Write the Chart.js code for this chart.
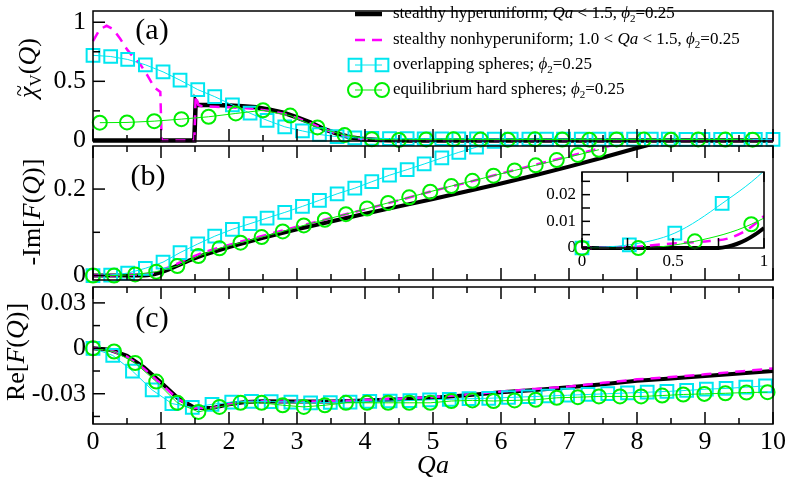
<!DOCTYPE html>
<html>
<head>
<meta charset="utf-8">
<title>chi_V(Q) and F(Q)</title>
<script src="https://cdn.jsdelivr.net/npm/chart.js@4.4.1/dist/chart.umd.min.js"></script>
<style>
  html, body { margin: 0; padding: 0; background: #fff; }
  #fig { position: relative; width: 789px; height: 482px; overflow: hidden; }
  #fig canvas { position: absolute; }
</style>
</head>
<body>
<div id="fig">
  <canvas id="chartA" width="789" height="152" style="left:0;top:0"></canvas>
  <canvas id="chartB" width="789" height="156" style="left:0;top:135px"></canvas>
  <canvas id="chartC" width="789" height="206" style="left:0;top:276px"></canvas>
  <canvas id="chartIn" width="252" height="118" style="left:530px;top:158px"></canvas>
</div>
<script>
// ---- series names (legend) ----
const seriesNames = [
  'stealthy hyperuniform; *Qa* < 1.5, *ϕ*_2=0.25',
  'stealthy nonhyperuniform; 1.0 < *Qa* < 1.5, *ϕ*_2=0.25',
  'overlapping spheres; *ϕ*_2=0.25',
  'equilibrium hard spheres; *ϕ*_2=0.25'
];

// ---- shared x axis (Qa) ----
const qaTicks = [0, 1, 2, 3, 4, 5, 6, 7, 8, 9, 10];
const qaLabels = ['0', '1', '2', '3', '4', '5', '6', '7', '8', '9', '10'];
const qaMinor = [0.5, 1.5, 2.5, 3.5, 4.5, 5.5, 6.5, 7.5, 8.5, 9.5];

// ---- panel (a): chi_V(Q) ----
const aTicks = [0, 0.5, 1];
const aLabels = ['0', '0.5', '1'];
const aMinor = [0.25, 0.75];
const aHypX = [0, 1.49, 1.51, 1.54, 1.6, 1.8, 2.0, 2.2, 2.4, 2.6, 2.8, 3.0, 3.2, 3.4, 3.6, 3.8, 4.0, 4.2, 4.5, 10];
const aHypY = [0, 0, 0.33, 0.30, 0.30, 0.30, 0.295, 0.29, 0.28, 0.26, 0.235, 0.195, 0.15, 0.095, 0.055, 0.025, 0.01, 0.003, 0, 0];
const aNonX = [0, 0.1, 0.2, 0.3, 0.4, 0.5, 0.6, 0.7, 0.8, 0.9, 0.99, 1.01, 1.49, 1.51, 1.55, 1.6, 1.8, 2.0, 2.2, 2.4, 2.6, 2.8, 3.0, 3.2, 3.4, 3.6, 3.8, 4.0, 4.2, 4.5, 10];
const aNonY = [0.84, 0.94, 0.97, 0.94, 0.86, 0.77, 0.70, 0.64, 0.55, 0.45, 0.41, 0, 0, 0.38, 0.30, 0.29, 0.285, 0.28, 0.275, 0.265, 0.25, 0.225, 0.19, 0.145, 0.095, 0.055, 0.025, 0.01, 0.003, 0, 0];
const aOvlX = [0, 0.26, 0.51, 0.77, 1.03, 1.28, 1.54, 1.79, 2.05, 2.31, 2.56, 2.82, 3.08, 3.33, 3.59, 3.85, 4.1, 4.36, 4.62, 4.87,
               5.13, 5.38, 5.64, 5.9, 6.15, 6.41, 6.67, 6.92, 7.18, 7.44, 7.69, 7.95, 8.21, 8.46, 8.72, 8.97, 9.23, 9.49, 9.74, 10];
const aOvlY = [0.72, 0.71, 0.685, 0.64, 0.58, 0.51, 0.43, 0.37, 0.30, 0.23, 0.17, 0.115, 0.08, 0.05, 0.032, 0.022, 0.018, 0.016, 0.015, 0.014,
               0.014, 0.013, 0.013, 0.012, 0.012, 0.012, 0.011, 0.011, 0.011, 0.01, 0.01, 0.01, 0.01, 0.01, 0.009, 0.009, 0.009, 0.009, 0.009, 0.009];
const aEqX = [0.1, 0.5, 0.9, 1.3, 1.7, 2.1, 2.5, 2.9, 3.3, 3.7, 4.1, 4.5, 4.9, 5.3, 5.7, 6.1, 6.5, 6.9, 7.3, 7.7, 8.1, 8.5, 8.9, 9.3, 9.7];
const aEqY = [0.15, 0.152, 0.163, 0.18, 0.20, 0.228, 0.255, 0.21, 0.11, 0.045, 0.01, 0.004, 0.008, 0.01, 0.007, 0.006, 0.009, 0.007, 0.006, 0.008, 0.007, 0.006, 0.008, 0.007, 0.006];

// ---- panel (b): -Im[F(Q)] ----
const bTicks = [0, 0.2];
const bLabels = ['0', '0.2'];
const bMinor = [0.1];
const bHypX = [0, 0.25, 0.5, 0.75, 0.8, 0.85, 0.9, 0.95, 1.0, 1.1, 1.2, 1.4, 1.6, 1.8, 2.0, 2.5, 3.0, 3.5, 4.0, 4.5, 5.0, 5.5, 6.0, 6.5, 7.0, 7.5, 8.0, 8.5];
const bHypY = [0, 0, 0, 0, 0.0005, 0.0015, 0.003, 0.005, 0.0075, 0.013, 0.02, 0.034, 0.046, 0.056, 0.066, 0.087, 0.107, 0.125, 0.143, 0.16, 0.177, 0.195, 0.213, 0.232, 0.252, 0.273, 0.295, 0.316];
const bNonX = [0, 0.25, 0.5, 0.7, 0.8, 0.9, 0.95, 1.0, 1.1, 1.2, 1.4, 1.6, 1.8, 2.0, 2.5, 3.0, 3.5, 4.0, 4.5, 5.0, 5.5, 6.0, 6.5, 7.0, 7.5, 8.0, 8.5];
const bNonY = [0, 0.0003, 0.0017, 0.0026, 0.0035, 0.0065, 0.009, 0.012, 0.018, 0.025, 0.039, 0.052, 0.062, 0.071, 0.092, 0.113, 0.133, 0.153, 0.174, 0.196, 0.215, 0.236, 0.256, 0.276, 0.296, 0.316, 0.336];
const bOvlX = [0, 0.26, 0.51, 0.77, 1.03, 1.28, 1.54, 1.79, 2.05, 2.31, 2.56, 2.82, 3.08, 3.33, 3.59, 3.85, 4.1, 4.36, 4.62, 4.87, 5.13, 5.38, 5.64, 5.9];
const bOvlY = [0, 0.0012, 0.0056, 0.0167, 0.031, 0.053, 0.073, 0.091, 0.107, 0.12, 0.133, 0.146, 0.16, 0.174, 0.189, 0.202, 0.217, 0.232, 0.245, 0.258, 0.272, 0.285, 0.297, 0.31];
const bEqX = [0, 0.31, 0.62, 0.93, 1.24, 1.55, 1.86, 2.17, 2.48, 2.79, 3.1, 3.41, 3.72, 4.03, 4.34, 4.65, 4.96, 5.27, 5.58, 5.89, 6.2, 6.51, 6.82, 7.13, 7.44];
const bEqY = [0, 0, 0.0025, 0.0089, 0.022, 0.045, 0.063, 0.076, 0.089, 0.102, 0.116, 0.129, 0.142, 0.155, 0.168, 0.181, 0.194, 0.207, 0.219, 0.231, 0.243, 0.255, 0.267, 0.279, 0.291];

// ---- inset of (b) ----
const inXTicks = [0, 0.5, 1];
const inXLabels = ['0', '0.5', '1'];
const inXMinor = [0.25, 0.75];
const inYTicks = [0, 0.01, 0.02];
const inYLabels = ['0', '0.01', '0.02'];
const inYMinor = [0.005, 0.015, 0.025];

// ---- panel (c): Re[F(Q)] ----
const cTicks = [-0.03, 0, 0.03];
const cLabels = ['-0.03', '0', '0.03'];
const cMinor = [-0.045, -0.015, 0.015];
const cHypX = [0, 0.25, 0.5, 0.75, 1.0, 1.25, 1.5, 1.75, 2.0, 2.25, 2.5, 3.0, 3.5, 4.0, 4.5, 5.0, 5.5, 6.0, 6.5, 7.0, 7.5, 8.0, 8.5, 9.0, 9.5, 10];
const cHypY = [0, -0.001, -0.005, -0.0125, -0.0225, -0.033, -0.0395, -0.0395, -0.037, -0.0355, -0.035, -0.0352, -0.0352, -0.0345, -0.0337, -0.0327, -0.031, -0.029, -0.0275, -0.0258, -0.0237, -0.0215, -0.0199, -0.0183, -0.0167, -0.015];
const cNonY = [0, -0.0012, -0.0055, -0.0135, -0.0235, -0.0335, -0.0395, -0.0395, -0.037, -0.0355, -0.035, -0.0352, -0.035, -0.0342, -0.0333, -0.0322, -0.0305, -0.0285, -0.0268, -0.0252, -0.0228, -0.0205, -0.019, -0.0172, -0.0153, -0.0133];
const cOvlX = [0, 0.29, 0.58, 0.87, 1.16, 1.46, 1.75, 2.04, 2.33, 2.62, 2.91, 3.2, 3.49, 3.78, 4.07, 4.37, 4.66, 4.95, 5.24, 5.53, 5.82, 6.11,
               6.4, 6.69, 6.98, 7.28, 7.57, 7.86, 8.15, 8.44, 8.73, 9.02, 9.31, 9.6, 9.89];
const cOvlY = [0, -0.0047, -0.015, -0.0275, -0.0365, -0.039, -0.037, -0.0355, -0.035, -0.0352, -0.0355, -0.036, -0.0358, -0.0355, -0.035, -0.0348,
               -0.0345, -0.034, -0.0337, -0.0333, -0.033, -0.0325, -0.032, -0.0315, -0.031, -0.0305, -0.03, -0.0295, -0.029, -0.0285, -0.0278, -0.027, -0.0265, -0.0257, -0.0248];
const cEqX = [0, 0.31, 0.62, 0.93, 1.24, 1.55, 1.86, 2.17, 2.48, 2.79, 3.1, 3.41, 3.72, 4.03, 4.34, 4.65, 4.96, 5.27, 5.58, 5.89, 6.2, 6.51,
              6.82, 7.13, 7.44, 7.75, 8.06, 8.37, 8.68, 8.99, 9.3, 9.61, 9.92];
const cEqY = [0, -0.0021, -0.0097, -0.022, -0.036, -0.042, -0.0387, -0.036, -0.036, -0.0376, -0.0387, -0.0376, -0.036, -0.036, -0.036, -0.036,
              -0.036, -0.0348, -0.0344, -0.0348, -0.0344, -0.034, -0.0327, -0.0323, -0.0318, -0.0318, -0.0318, -0.0312, -0.0305, -0.0301, -0.0297, -0.0292, -0.029];

// ---------------------------------------------------------------
const FONT = '"Liberation Serif"';
const BLACK = '#000000', MAGENTA = '#ff00ff', CYAN = '#00e6f0', GREEN = '#00ee00';
Chart.defaults.font.family = 'Liberation Serif';
Chart.defaults.color = '#000';

function pts(xs, ys) {
  return xs.map((x, i) => ({ x: x, y: ys[i] }));
}

// *italic*, _s subscript, ~*x* italic with a tilde on top
function richParts(str) {
  return str.split(/(~?\*[^*]+\*|_\w)/).filter(s => s).map(s => {
    if (s[0] === '_') return { t: s.slice(1), sub: true };
    if (s[0] === '~') return { t: s.slice(2, -1), it: true, tilde: true };
    if (s[0] === '*') return { t: s.slice(1, -1), it: true };
    return { t: s };
  });
}

function drawRich(ctx, str, x, y, size, align) {
  const parts = richParts(str);
  const font = p => (p.it ? 'italic ' : '') + (p.sub ? Math.round(size * 0.65) : size) + 'px ' + FONT;
  let w = 0;
  parts.forEach(p => { ctx.font = font(p); p.w = ctx.measureText(p.t).width; w += p.w; });
  let cx = align === 'center' ? x - w / 2 : x;
  ctx.textAlign = 'left';
  ctx.textBaseline = 'middle';
  parts.forEach(p => {
    ctx.font = font(p);
    ctx.fillText(p.t, cx, p.sub ? y + size * 0.3 : y);
    if (p.tilde) {
      ctx.font = Math.round(size * 0.8) + 'px ' + FONT;
      ctx.fillText('~', cx + p.w * 0.12, y - size * 0.34);
    }
    cx += p.w;
  });
}

// frame, inward ticks, panel letter, rotated y title, legend
const panelDecor = {
  id: 'panelDecor',
  afterDraw(chart, args, o) {
    const ctx = chart.ctx, a = chart.chartArea, xs = chart.scales.x, ys = chart.scales.y;
    ctx.save();
    ctx.strokeStyle = '#000';
    ctx.lineWidth = o.lw;
    ctx.strokeRect(a.left, a.top, a.right - a.left, a.bottom - a.top);
    const tick = (px, py, dx, dy) => {
      ctx.beginPath(); ctx.moveTo(px, py); ctx.lineTo(px + dx, py + dy); ctx.stroke();
    };
    [[o.xMajor, o.tx[0]], [o.xMinor, o.tx[1]]].forEach(([vals, len]) => {
      vals.forEach(v => {
        const p = xs.getPixelForValue(v);
        tick(p, a.bottom, 0, -len);
        if (o.topTicks) tick(p, a.top, 0, len);
      });
    });
    [[o.yMajor, o.ty[0]], [o.yMinor, o.ty[1]]].forEach(([vals, len]) => {
      vals.forEach(v => tick(a.left, ys.getPixelForValue(v), len, 0));
    });
    ctx.fillStyle = '#000';
    if (o.letter) {
      ctx.font = '30px ' + FONT;
      ctx.textAlign = 'center';
      ctx.textBaseline = 'middle';
      ctx.fillText(o.letter[0], o.letter[1], o.letter[2]);
    }
    if (o.title) {
      ctx.save();
      ctx.translate(o.title[1], o.title[2]);
      ctx.rotate(-Math.PI / 2);
      drawRich(ctx, o.title[0], 0, 0, 26, 'center');
      ctx.restore();
    }
    if (o.legend) {
      const L = o.legend;
      chart.data.datasets.forEach((ds, i) => {
        const ry = L.rows[i];
        ctx.save();
        ctx.strokeStyle = ds.borderColor;
        ctx.lineWidth = ds.borderWidth;
        ctx.setLineDash(ds.borderDash || []);
        ctx.beginPath(); ctx.moveTo(L.x0, ry); ctx.lineTo(L.x1, ry); ctx.stroke();
        ctx.setLineDash([]);
        if (ds.pointRadius > 0) {
          ctx.lineWidth = ds.pointBorderWidth;
          ctx.fillStyle = 'rgba(0,0,0,0)';
          [L.x0, L.x1].forEach(px => Chart.helpers.drawPoint(ctx,
            { pointStyle: ds.pointStyle, radius: ds.pointRadius, rotation: 0, borderWidth: ds.pointBorderWidth }, px, ry));
        }
        ctx.restore();
        ctx.fillStyle = '#000';
        drawRich(ctx, seriesNames[i], L.tx, ry, L.size, 'left');
      });
    }
    ctx.restore();
  }
};

function hypSet(xs, ys, w, clip, smooth) {
  return { label: seriesNames[0], data: pts(xs, ys), borderColor: BLACK, borderWidth: w, pointRadius: 0,
           fill: false, clip: clip, order: 4, cubicInterpolationMode: smooth ? 'monotone' : 'default' };
}
function nonSet(xs, ys, w, clip, smooth) {
  return { label: seriesNames[1], data: pts(xs, ys), borderColor: MAGENTA, borderWidth: w, borderDash: [10, 7], pointRadius: 0,
           fill: false, clip: clip, order: 3, cubicInterpolationMode: smooth ? 'monotone' : 'default' };
}
function ovlSet(xs, ys, clip, smooth) {
  return { label: seriesNames[2], data: pts(xs, ys), borderColor: CYAN, borderWidth: 1, pointStyle: 'rect', pointRadius: 9,
           pointBorderWidth: 2, pointBorderColor: CYAN, pointBackgroundColor: 'rgba(0,0,0,0)', fill: false, clip: clip, order: 2,
           cubicInterpolationMode: smooth ? 'monotone' : 'default' };
}
function eqSet(xs, ys, clip, smooth) {
  return { label: seriesNames[3], data: pts(xs, ys), borderColor: GREEN, borderWidth: 1, pointStyle: 'circle', pointRadius: 7,
           pointBorderWidth: 2, pointBorderColor: GREEN, pointBackgroundColor: 'rgba(0,0,0,0)', fill: false, clip: clip, order: 1,
           cubicInterpolationMode: smooth ? 'monotone' : 'default' };
}

function yAxis(min, max, ticks, labels, width, size, pad) {
  return {
    type: 'linear', min: min, max: max,
    afterBuildTicks: s => { s.ticks = ticks.map(v => ({ value: v })); },
    afterFit: s => { s.width = width; s.paddingTop = 0; s.paddingBottom = 0; },
    ticks: { callback: (v, i) => labels[i], font: { size: size }, padding: pad, autoSkip: false, color: '#000' },
    grid: { display: false, drawTicks: false },
    border: { display: false }
  };
}
function hiddenX(min, max) {
  return { type: 'linear', min: min, max: max, display: false };
}
function shownX(min, max, ticks, labels, height, size, pad, title) {
  return {
    type: 'linear', min: min, max: max,
    afterBuildTicks: s => { s.ticks = ticks.map(v => ({ value: v })); },
    afterFit: s => { s.height = height; s.paddingLeft = 0; s.paddingRight = 0; },
    ticks: { callback: (v, i) => labels[i], font: { size: size }, padding: pad, autoSkip: false, maxRotation: 0, color: '#000' },
    grid: { display: false, drawTicks: false },
    border: { display: false },
    title: title ? { display: true, text: title, font: { size: size, style: 'italic' }, padding: 0, color: '#000' } : { display: false }
  };
}

function makeChart(id, datasets, padding, scales, decor) {
  return new Chart(document.getElementById(id), {
    type: 'line',
    data: { datasets: datasets },
    options: {
      responsive: false,
      animation: false,
      events: [],
      layout: { padding: padding },
      plugins: { legend: { display: false }, tooltip: { enabled: false }, panelDecor: decor },
      scales: scales
    },
    plugins: [panelDecor]
  });
}

const clipA = { left: 12, right: 12, top: 0, bottom: 9 };
const clipB = { left: 12, right: 12, top: 0, bottom: 9 };
const clipC = { left: 12, right: 12, top: 0, bottom: 9 };
const clipIn = { left: 12, right: 0, top: 0, bottom: 9 };

// panel (a)
makeChart('chartA',
  [hypSet(aHypX, aHypY, 4.5, clipA), nonSet(aNonX, aNonY, 2.5, clipA), ovlSet(aOvlX, aOvlY, clipA), eqSet(aEqX, aEqY, clipA)],
  { top: 2, bottom: 9, left: 0, right: 16 },
  { x: hiddenX(0, 10), y: yAxis(-0.005, 1.095, aTicks, aLabels, 93, 26, 7) },
  { lw: 1.5, xMajor: qaTicks, xMinor: qaMinor, tx: [12, 6], topTicks: false, yMajor: aTicks, yMinor: aMinor, ty: [12, 7],
    letter: ['(a)', 152, 31], title: ['~*χ*_V(*Q*)', 29, 68],
    legend: { x0: 355, x1: 382, tx: 393, rows: [14, 40, 65, 90], size: 17 } });

// panel (b)
makeChart('chartB',
  [hypSet(bHypX, bHypY, 4, clipB), nonSet(bNonX, bNonY, 2.5, clipB), ovlSet(bOvlX, bOvlY, clipB), eqSet(bEqX, bEqY, clipB)],
  { top: 8, bottom: 7, left: 0, right: 16 },
  { x: hiddenX(0, 10), y: yAxis(-0.0103, 0.2996, bTicks, bLabels, 93, 26, 7) },
  { lw: 1.5, xMajor: qaTicks, xMinor: qaMinor, tx: [12, 6], topTicks: true, yMajor: bTicks, yMinor: bMinor, ty: [12, 7],
    letter: ['(b)', 148, 42], title: ['-Im[*F*(*Q*)]', 33, 77] });

// panel (c)
makeChart('chartC',
  [hypSet(cHypX, cHypY, 4, clipC), nonSet(cHypX, cNonY, 2.5, clipC), ovlSet(cOvlX, cOvlY, clipC), eqSet(cEqX, cEqY, clipC)],
  { top: 8, bottom: 0, left: 0, right: 16 },
  { x: shownX(0, 10, qaTicks, qaLabels, 58, 26, 3, 'Qa'), y: yAxis(-0.05, 0.0405, cTicks, cLabels, 93, 26, 7) },
  { lw: 1.5, xMajor: qaTicks, xMinor: qaMinor, tx: [12, 6], topTicks: true, yMajor: cTicks, yMinor: cMinor, ty: [12, 7],
    letter: ['(c)', 152, 43], title: ['Re[*F*(*Q*)]', 17, 76] });

// inset of (b)
makeChart('chartIn',
  [hypSet(bHypX, bHypY, 4, clipIn, true), nonSet(bNonX, bNonY, 2.5, clipIn, true), ovlSet(bOvlX, bOvlY, clipIn, true), eqSet(bEqX, bEqY, clipIn, true)],
  { top: 14, bottom: 0, left: 0, right: 18 },
  { x: shownX(0, 1, inXTicks, inXLabels, 28, 17, 3, null), y: yAxis(0, 0.0285, inYTicks, inYLabels, 52, 17, 6) },
  { lw: 1.5, xMajor: inXTicks, xMinor: inXMinor, tx: [10, 10], topTicks: true, yMajor: inYTicks, yMinor: inYMinor, ty: [8, 8] });
</script>
</body>
</html>
